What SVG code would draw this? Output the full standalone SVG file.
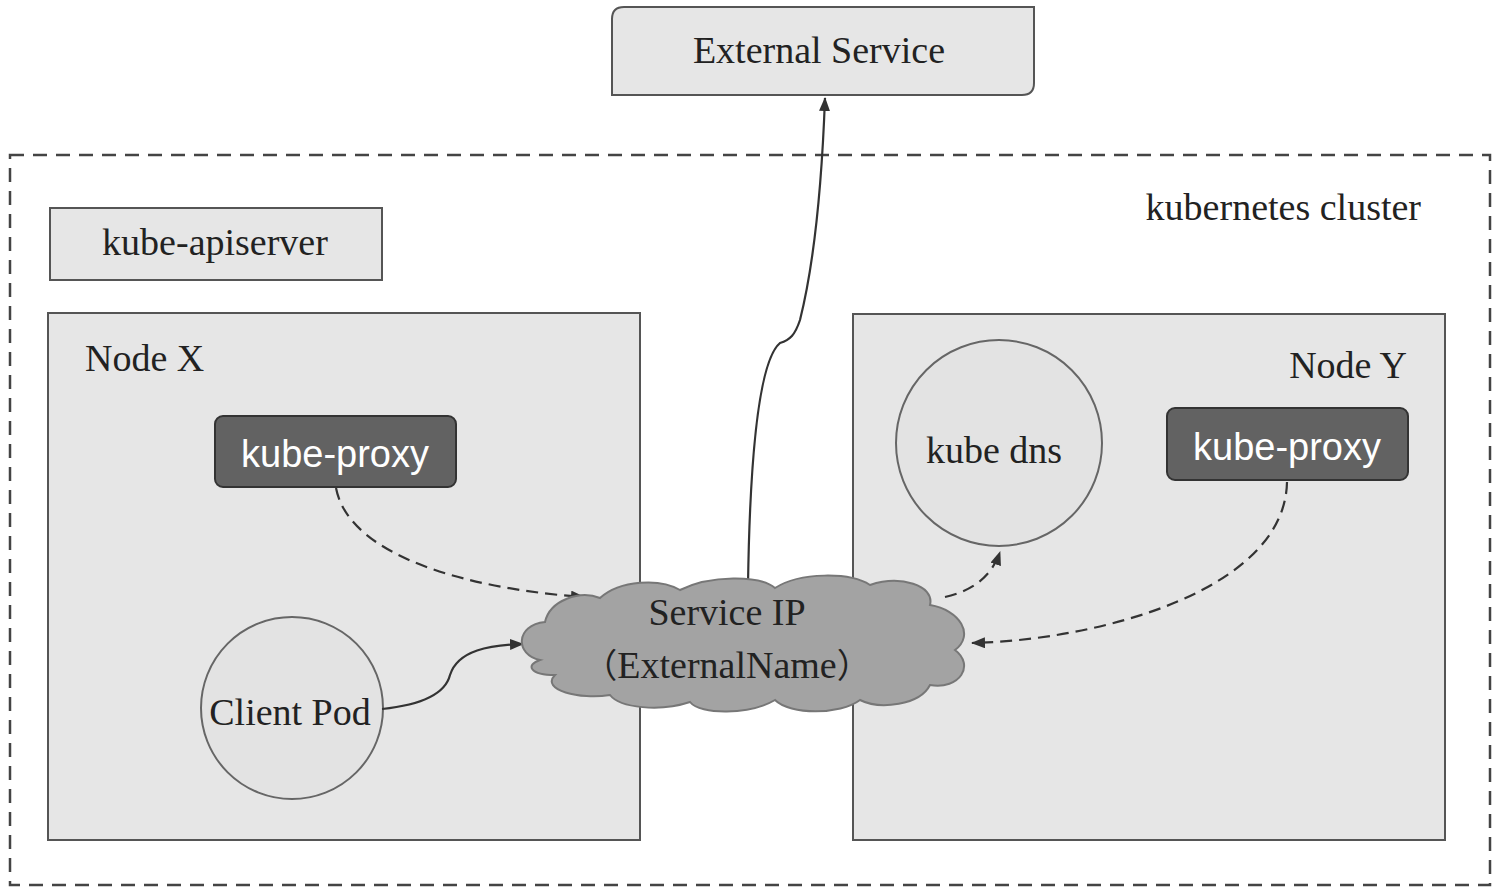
<svg xmlns="http://www.w3.org/2000/svg" width="1498" height="896" viewBox="0 0 1498 896">
<style>
.serif{font-family:"Liberation Serif","Times New Roman",serif;font-size:38px;fill:#222}
.cjk{font-family:"Noto Sans CJK SC",sans-serif;font-size:34px}
.sans{font-family:"Liberation Sans",Arial,sans-serif;font-size:38px;fill:#fff}
.box{fill:#e6e6e6;stroke:#555;stroke-width:2}
.proxy{fill:#626262;stroke:#333;stroke-width:2}
.circ{fill:#e3e3e3;stroke:#666;stroke-width:2}
.conn{fill:none;stroke:#333;stroke-width:2.2}
.dash{stroke-dasharray:12 7}
</style>
<defs>
<marker id="arr" viewBox="0 0 14 11" refX="13" refY="5.5" markerWidth="14" markerHeight="11" markerUnits="userSpaceOnUse" orient="auto">
<path d="M0,0 L14,5.5 L0,11 Z" fill="#333"/>
</marker>
</defs>
<rect width="1498" height="896" fill="#fff"/>
<g id="cluster">
<rect x="10" y="155" width="1480" height="730" fill="#fff" stroke="#444" stroke-width="2.5" stroke-dasharray="14 9"/>
<text class="serif" x="1421" y="220" text-anchor="end">kubernetes cluster</text>
</g>
<g id="external-service">
<path class="box" d="M624,7 H1034 V83 Q1034,95 1022,95 H612 V19 Q612,7 624,7 Z"/>
<text class="serif" x="819" y="63" text-anchor="middle">External Service</text>
</g>
<g id="kube-apiserver">
<rect class="box" x="50" y="208" width="332" height="72"/>
<text class="serif" x="215" y="255" text-anchor="middle">kube-apiserver</text>
</g>
<g id="node-x">
<rect class="box" x="48" y="313" width="592" height="527"/>
<text class="serif" x="85" y="371">Node X</text>
</g>
<g id="node-y">
<rect class="box" x="853" y="314" width="592" height="526"/>
<text class="serif" x="1407" y="378" text-anchor="end">Node Y</text>
</g>
<g id="kube-proxy-x">
<rect class="proxy" x="215" y="416" width="241" height="71" rx="8"/>
<text class="sans" x="335" y="467" text-anchor="middle">kube-proxy</text>
</g>
<g id="kube-proxy-y">
<rect class="proxy" x="1167" y="408" width="241" height="72" rx="8"/>
<text class="sans" x="1287" y="460" text-anchor="middle">kube-proxy</text>
</g>
<g id="kube-dns">
<circle class="circ" cx="999" cy="443" r="103"/>
<text class="serif" x="994" y="463" text-anchor="middle">kube dns</text>
</g>
<g id="client-pod">
<circle class="circ" cx="292" cy="708" r="91"/>
<text class="serif" x="290" y="725" text-anchor="middle">Client Pod</text>
</g>
<g id="connectors">
<path class="conn" d="M748,585 C750,450 760,360 780,343 C790,340 795,335 800,320 C815,260 822,180 825,98" marker-end="url(#arr)"/>
<path class="conn dash" d="M336,488 C350,560 480,590 584,597" marker-end="url(#arr)"/>
<path class="conn" d="M382,709 C420,705 445,695 450,675 C458,650 490,645 523,644" marker-end="url(#arr)"/>
<path class="conn dash" d="M945,597 C975,590 992,575 1000,552" marker-end="url(#arr)"/>
<path class="conn dash" d="M1287,482 C1285,590 1100,640 972,643" marker-end="url(#arr)"/>
</g>
<g id="service-ip">
<path d="M540,660 C515,655 515,625 545,622 C550,600 580,590 600,598 C620,580 660,578 680,590 C710,575 760,575 775,588 C800,572 850,572 870,585 C900,575 935,585 930,605 C960,610 975,635 955,650 C975,665 960,690 930,685 C920,705 880,710 860,700 C840,715 790,715 775,700 C750,715 700,715 690,702 C660,712 620,708 610,695 C580,700 540,690 555,675 C530,675 525,665 540,660 Z" fill="#a3a3a3" stroke="#777" stroke-width="2"/>
<text class="serif" x="727" y="625" text-anchor="middle">Service IP</text>
<text class="serif" x="727" y="678" text-anchor="middle"><tspan class="cjk">（</tspan>ExternalName<tspan class="cjk">）</tspan></text>
</g>
</svg>
